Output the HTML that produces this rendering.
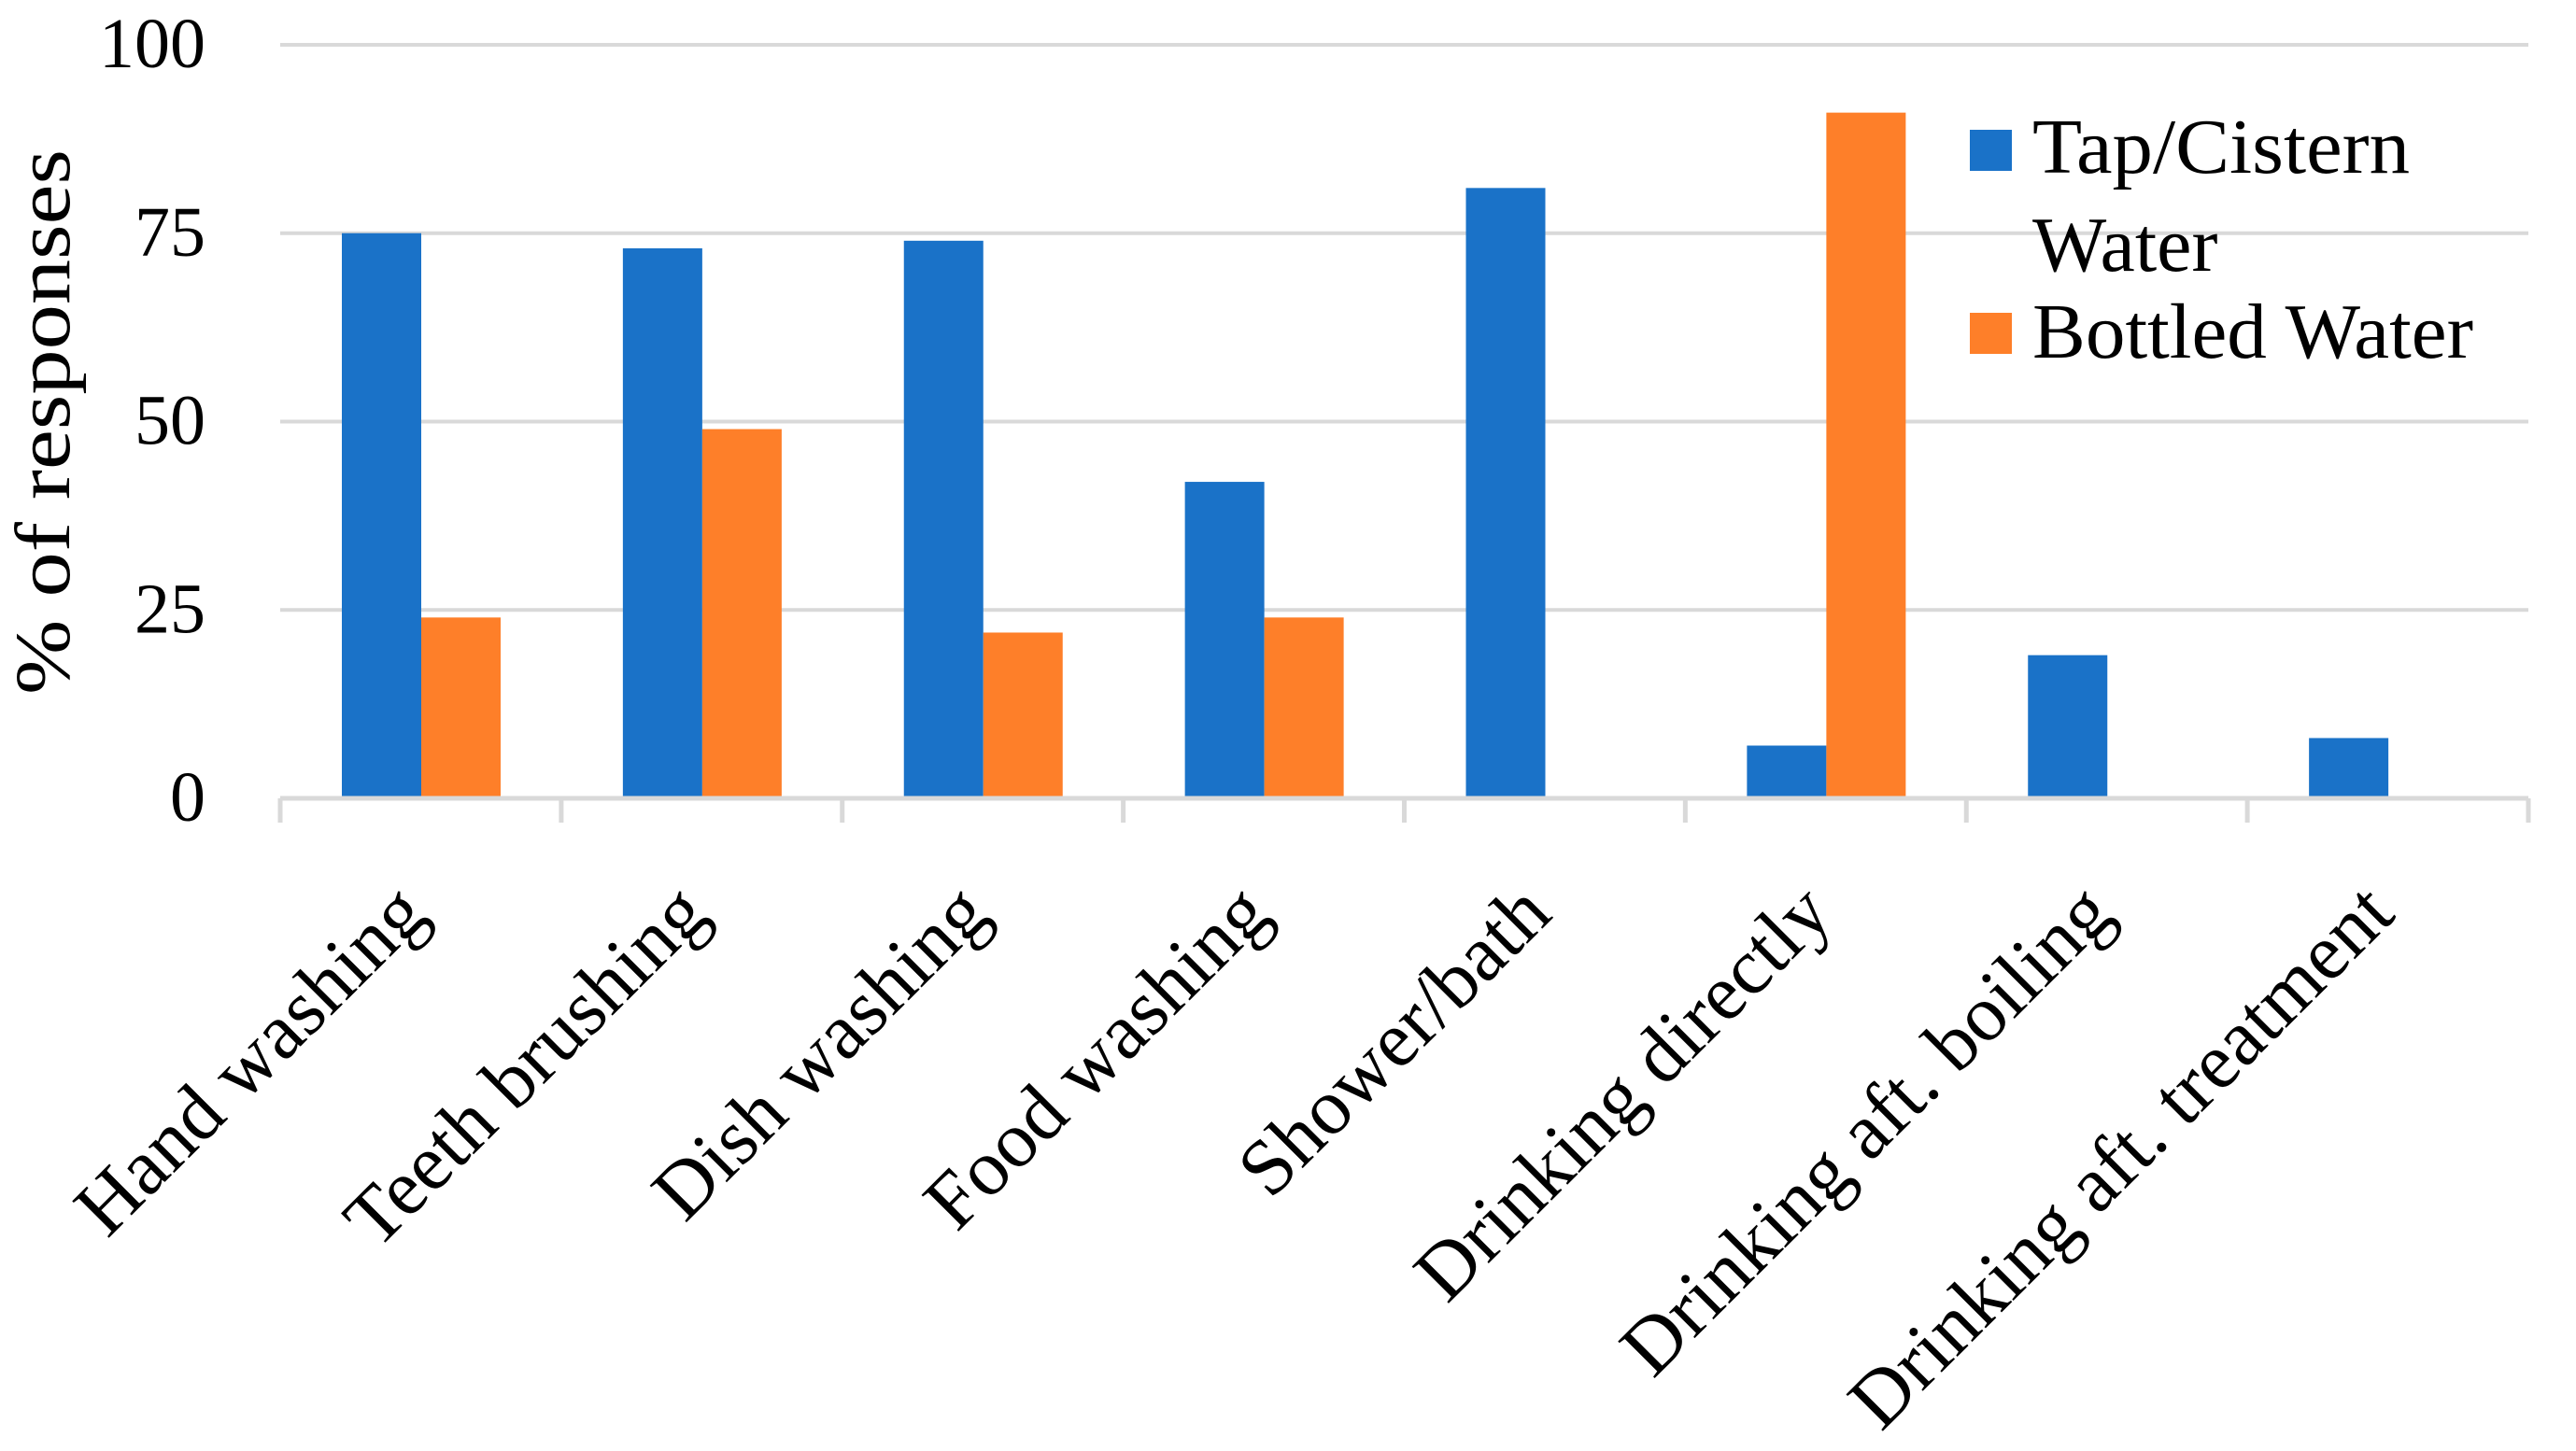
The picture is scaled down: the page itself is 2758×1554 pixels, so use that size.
<!DOCTYPE html>
<html><head><meta charset="utf-8"><style>
html,body{margin:0;padding:0;background:#fff;}
svg{display:block;font-family:"Liberation Serif",serif;}
</style></head><body>
<svg id="chart" width="2758" height="1554" viewBox="0 0 2758 1554">
<g id="grid"></g>
<g id="bars"></g>
<g id="axis"></g>
<g id="yticks"></g>
<g id="xlabels"></g>
<text transform="translate(74,452) rotate(-90)" text-anchor="middle" font-size="84" textLength="584" lengthAdjust="spacingAndGlyphs">% of responses</text>
<g>
<rect x="2109" y="139" width="45" height="44" fill="#1a72c8"/>
<text x="2176" y="185" font-size="84" textLength="404" lengthAdjust="spacingAndGlyphs">Tap/Cistern</text>
<text x="2176" y="290" font-size="84">Water</text>
<rect x="2109" y="335" width="45" height="44" fill="#fe7f29"/>
<text x="2176" y="383" font-size="84" textLength="472" lengthAdjust="spacingAndGlyphs">Bottled Water</text>
</g>
</svg>
<script>
const categories = ["Hand washing","Teeth brushing","Dish washing","Food washing","Shower/bath","Drinking directly","Drinking aft. boiling","Drinking aft. treatment"];
const tapValues = [75,73,74,42,81,7,19,8];
const bottledValues = [24,49,22,24,0,91,0,0];
const yTicks = [0,25,50,75,100];

const NS="http://www.w3.org/2000/svg";
const L=300,R=2707,Y0=855,Y100=48;
const catW=(R-L)/categories.length;
function y(v){return Y0-(Y0-Y100)*v/100;}
function xCat(i){return L+i*catW;}
function mk(tag,attrs,parent){const e=document.createElementNS(NS,tag);for(const k in attrs)e.setAttribute(k,attrs[k]);parent.appendChild(e);return e;}

const grid=document.getElementById('grid');
const yt=document.getElementById('yticks');
yTicks.forEach(t=>{
  if(t>0){
    const g=mk('line',{x1:L,x2:R,y1:y(t),y2:y(t),stroke:'#d9d9d9','stroke-width':4},grid);
    
    
  }
  const tx=mk('text',{x:220,y:y(t)+24,'text-anchor':'end','font-size':76},yt);
  tx.textContent=t;
  
  
});

const bars=document.getElementById('bars');
const bw=85,off=66;
categories.forEach((c,i)=>{
  const x0=xCat(i)+off;
  const b1=mk('rect',{x:x0,y:y(tapValues[i]),width:bw,height:Y0-y(tapValues[i]),fill:'#1a72c8'},bars);
  
  
  if(bottledValues[i]>0){
    const b2=mk('rect',{x:x0+bw,y:y(bottledValues[i]),width:bw,height:Y0-y(bottledValues[i]),fill:'#fe7f29'},bars);
    
    
  }
});

const ax=document.getElementById('axis');
const al=mk('line',{x1:L,x2:R,y1:Y0,y2:Y0,stroke:'#d9d9d9','stroke-width':5},ax);


for(let i=0;i<=categories.length;i++){
  const tk=mk('line',{x1:xCat(i),x2:xCat(i),y1:Y0,y2:881,stroke:'#d9d9d9','stroke-width':5},ax);
  
  
}

const xl=document.getElementById('xlabels');
categories.forEach((c,i)=>{
  const cx=xCat(i)+catW/2+10;
  const t=mk('text',{transform:`translate(${cx},982) rotate(-45)`,'text-anchor':'end','font-size':85},xl);
  t.textContent=c;
  
  
});
</script>
</body></html>
